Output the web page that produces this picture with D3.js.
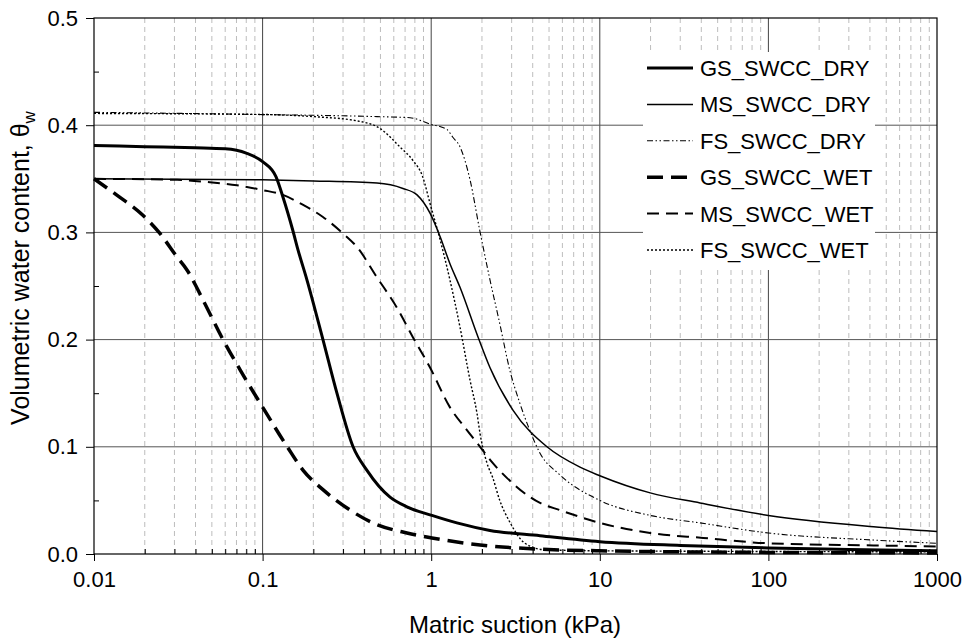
<!DOCTYPE html>
<html><head><meta charset="utf-8">
<script src="https://cdn.jsdelivr.net/npm/d3@7/dist/d3.min.js"></script>
<style>body{margin:0;background:#fff}text{font-family:"Liberation Sans",Arial,sans-serif;fill:#000}</style>
</head><body><svg id="c" width="966" height="640"></svg>
<script>
// ---- data ----
const xTicks = [0.01, 0.1, 1, 10, 100, 1000];
const xTickLabels = ["0.01", "0.1", "1", "10", "100", "1000"];
const yTicks = [0, 0.1, 0.2, 0.3, 0.4, 0.5];
const yTickLabels = ["0.0", "0.1", "0.2", "0.3", "0.4", "0.5"];
const seriesNames = ["GS_SWCC_DRY", "MS_SWCC_DRY", "FS_SWCC_DRY", "GS_SWCC_WET", "MS_SWCC_WET", "FS_SWCC_WET"];

const gsDry = [[0.01,0.381],[0.02,0.380],[0.04,0.379],[0.06,0.378],[0.08,0.374],[0.1,0.366],[0.12,0.352],[0.132,0.333],[0.151,0.302],[0.162,0.284],[0.183,0.256],[0.228,0.2],[0.276,0.150],[0.344,0.1],[0.416,0.078],[0.57,0.053],[0.718,0.044],[1.01,0.036],[1.42,0.029],[2.23,0.022],[4.42,0.017],[10,0.0115],[30,0.008],[100,0.0056],[300,0.0042],[1000,0.003]];
const msDry = [[0.01,0.350],[0.1,0.349],[0.2,0.348],[0.477,0.346],[0.68,0.341],[0.824,0.335],[0.984,0.318],[1.13,0.296],[1.29,0.271],[1.48,0.249],[1.9,0.202],[2.23,0.174],[3.06,0.134],[4.86,0.1],[7.63,0.081],[10,0.073],[19.9,0.057],[39.3,0.0476],[100,0.036],[420,0.0255],[1000,0.021]];
const fsDry = [[0.01,0.412],[0.0925,0.410],[0.477,0.408],[0.749,0.407],[0.984,0.401],[1.24,0.396],[1.34,0.389],[1.48,0.380],[1.7,0.349],[1.94,0.302],[2.23,0.256],[2.55,0.215],[2.92,0.172],[3.35,0.141],[3.83,0.116],[4.42,0.094],[5.78,0.074],[10,0.050],[19.9,0.036],[39.3,0.029],[100,0.0196],[420,0.013],[1000,0.010]];
const gsWet = [[0.01,0.350],[0.0136,0.335],[0.0195,0.316],[0.0246,0.299],[0.0311,0.277],[0.0356,0.265],[0.0443,0.237],[0.0582,0.2],[0.0734,0.172],[0.1,0.137],[0.14,0.1],[0.174,0.078],[0.228,0.06],[0.33,0.041],[0.451,0.029],[0.718,0.0196],[1.01,0.015],[1.95,0.0084],[4.42,0.0045],[10,0.003],[100,0.0015],[1000,0.001]];
const msWet = [[0.01,0.350],[0.0311,0.349],[0.0468,0.347],[0.0704,0.344],[0.1,0.3395],[0.132,0.335],[0.174,0.3256],[0.228,0.3144],[0.3,0.299],[0.363,0.2864],[0.477,0.258],[0.625,0.230],[0.78,0.202],[0.984,0.174],[1.29,0.137],[1.62,0.116],[1.95,0.1],[2.23,0.088],[2.81,0.071],[4.42,0.0476],[5.78,0.041],[10,0.029],[19.9,0.0196],[41,0.015],[100,0.010],[420,0.008],[1000,0.007]];
const fsWet = [[0.01,0.411],[0.1,0.410],[0.2,0.408],[0.363,0.404],[0.497,0.397],[0.65,0.380],[0.78,0.367],[0.89,0.352],[0.984,0.327],[1.13,0.293],[1.29,0.256],[1.48,0.212],[1.7,0.162],[1.87,0.131],[1.95,0.112],[2.14,0.085],[2.32,0.071],[2.55,0.05],[2.92,0.03],[3.6,0.01],[4.7,0.004],[10,0.003],[1000,0.002]];

const seriesData = [gsDry, msDry, fsDry, gsWet, msWet, fsWet];
const seriesWidth = [3, 1.5, 1.1, 3.5, 2, 1.4];
const seriesDash = [null, null, "6,2.5,1.5,2.5,1.5,2.5", "16,8", "12,7", "2,2"];

// ---- layout ----
const svg = d3.select("#c");
const L = 94, R = 937, T = 18, B = 554;
const x = d3.scaleLog().domain([0.01, 1000]).range([L, R]);
const y = d3.scaleLinear().domain([0, 0.5]).range([B, T]);

// minor vertical grid
const minor = [];
for (let e = -2; e < 3; e++) for (let m = 2; m <= 9; m++) minor.push(m * Math.pow(10, e));
svg.append("g").selectAll("line").data(minor).join("line")
  .attr("x1", d => x(d)).attr("x2", d => x(d)).attr("y1", T).attr("y2", B)
  .attr("stroke", "#bdbdbd").attr("stroke-width", 1).attr("stroke-dasharray", "5,4");
// major vertical grid
svg.append("g").selectAll("line").data(xTicks.slice(1, -1)).join("line")
  .attr("x1", d => x(d)).attr("x2", d => x(d)).attr("y1", T).attr("y2", B)
  .attr("stroke", "#444").attr("stroke-width", 1);
// horizontal grid
svg.append("g").selectAll("line").data(yTicks.slice(1, -1)).join("line")
  .attr("x1", L).attr("x2", R).attr("y1", d => y(d)).attr("y2", d => y(d))
  .attr("stroke", "#555").attr("stroke-width", 1);

// legend background
const lgX = 643, lgY = 52, lgW = 232, lgH = 218;
svg.append("rect").attr("x", lgX).attr("y", lgY).attr("width", lgW).attr("height", lgH).attr("fill", "#fff");

// frame
svg.append("rect").attr("x", L).attr("y", T).attr("width", R - L).attr("height", B - T)
  .attr("fill", "none").attr("stroke", "#000").attr("stroke-width", 1.2);

// axes
const xAxis = d3.axisBottom(x).tickValues(xTicks).tickFormat((d, i) => xTickLabels[i]).tickSize(7).tickPadding(10);
const gx = svg.append("g").attr("transform", `translate(0,${B})`).call(xAxis);
gx.select(".domain").remove();
gx.selectAll("text").attr("font-size", 22).attr("font-family", '"Liberation Sans",Arial,sans-serif');
gx.selectAll("line").attr("stroke", "#000");
const xMinor = d3.axisTop(x).tickValues(minor).tickFormat("").tickSize(5);
const gxm = svg.append("g").attr("transform", `translate(0,${B})`).call(xMinor);
gxm.select(".domain").remove();

const yAxis = d3.axisLeft(y).tickValues(yTicks).tickFormat((d, i) => yTickLabels[i]).tickSize(8).tickPadding(8);
const gy = svg.append("g").attr("transform", `translate(${L},0)`).call(yAxis);
gy.select(".domain").remove();
gy.selectAll("text").attr("font-size", 22).attr("font-family", '"Liberation Sans",Arial,sans-serif');
const yMinor = d3.axisRight(y).tickValues([0.05, 0.15, 0.25, 0.35, 0.45]).tickFormat("").tickSize(5);
const gym = svg.append("g").attr("transform", `translate(${L},0)`).call(yMinor);
gym.select(".domain").remove();

// curves
const line = d3.line().x(d => x(d[0])).y(d => y(d[1])).curve(d3.curveMonotoneX);
seriesData.forEach((s, i) => {
  svg.append("path").datum(s).attr("d", line).attr("fill", "none")
    .attr("stroke", "#000").attr("stroke-width", seriesWidth[i])
    .attr("stroke-dasharray", seriesDash[i]);
});

// legend
const lg = svg.append("g");
seriesNames.forEach((n, i) => {
  const yy = 68 + i * 36.4;
  lg.append("line").attr("x1", 647).attr("x2", 693).attr("y1", yy).attr("y2", yy)
    .attr("stroke", "#000").attr("stroke-width", seriesWidth[i]).attr("stroke-dasharray", seriesDash[i]);
  lg.append("text").attr("x", 700).attr("y", yy).attr("dy", "0.36em").attr("font-size", 22).text(n);
});

// axis titles
svg.append("text").attr("x", 515).attr("y", 633).attr("text-anchor", "middle").attr("font-size", 24)
  .text("Matric suction (kPa)");
const yt = svg.append("text").attr("transform", "translate(29,268) rotate(-90)").attr("text-anchor", "middle").attr("font-size", 25);
yt.append("tspan").text("Volumetric water content, θ");
yt.append("tspan").attr("font-size", 17).attr("dy", 6).text("w");
</script></body></html>
